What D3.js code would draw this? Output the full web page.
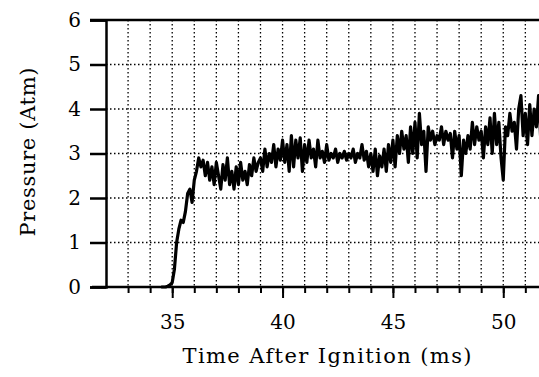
<!DOCTYPE html>
<html>
<head>
<meta charset="utf-8">
<script src="https://cdn.jsdelivr.net/npm/d3@7"></script>
<style>
  body { margin: 0; background: #fff; }
  svg { display: block; }
  text { font-family: "DejaVu Serif", "Liberation Serif", serif; fill: #000; }
</style>
</head>
<body>
<svg width="539" height="377"></svg>
<script>
// pressure trace (ms, atm)
const timeMs = [
  34.5, 34.6, 34.7, 34.8, 34.9, 35.0, 35.1, 35.2, 35.3, 35.4, 35.5, 35.6, 35.7, 35.8, 35.9,
  36.0, 36.1, 36.2, 36.3, 36.4, 36.5, 36.6, 36.7, 36.8, 36.9, 37.0, 37.1, 37.2, 37.3, 37.4,
  37.5, 37.6, 37.7, 37.8, 37.9, 38.0, 38.1, 38.2, 38.3, 38.4, 38.5, 38.6, 38.7, 38.8, 38.9,
  39.0, 39.1, 39.2, 39.3, 39.4, 39.5, 39.6, 39.7, 39.8, 39.9, 40.0, 40.1, 40.2, 40.3, 40.4,
  40.5, 40.6, 40.7, 40.8, 40.9, 41.0, 41.1, 41.2, 41.3, 41.4, 41.5, 41.6, 41.7, 41.8, 41.9,
  42.0, 42.1, 42.2, 42.3, 42.4, 42.5, 42.6, 42.7, 42.8, 42.9, 43.0, 43.1, 43.2, 43.3, 43.4,
  43.5, 43.6, 43.7, 43.8, 43.9, 44.0, 44.1, 44.2, 44.3, 44.4, 44.5, 44.6, 44.7, 44.8, 44.9,
  45.0, 45.1, 45.2, 45.3, 45.4, 45.5, 45.6, 45.7, 45.8, 45.9, 46.0, 46.1, 46.2, 46.3, 46.4,
  46.5, 46.6, 46.7, 46.8, 46.9, 47.0, 47.1, 47.2, 47.3, 47.4, 47.5, 47.6, 47.7, 47.8, 47.9,
  48.0, 48.1, 48.2, 48.3, 48.4, 48.5, 48.6, 48.7, 48.8, 48.9, 49.0, 49.1, 49.2, 49.3, 49.4,
  49.5, 49.6, 49.7, 49.8, 49.9, 50.0, 50.1, 50.2, 50.3, 50.4, 50.5, 50.6, 50.7, 50.8, 50.9,
  51.0, 51.1, 51.2, 51.3, 51.4, 51.5, 51.6, 51.7, 51.8, 51.9
]
const pressureAtm = [
  0, 0, 0, 0.02, 0.05, 0.1, 0.4, 1.0, 1.3, 1.5, 1.45, 1.7, 2.1, 2.2, 1.9,
  2.4, 2.6, 2.9, 2.7, 2.85, 2.5, 2.8, 2.4, 2.7, 2.3, 2.8, 2.5, 2.2, 2.75, 2.4,
  2.9, 2.3, 2.6, 2.2, 2.7, 2.3, 2.8, 2.4, 2.6, 2.3, 2.75, 2.5, 2.9, 2.6, 2.8,
  2.9, 2.6, 3.1, 2.7, 3.0, 2.8, 3.2, 2.7, 3.1, 2.85, 3.3, 2.8, 3.2, 2.6, 3.4,
  2.7, 3.3, 2.9, 3.35, 2.6, 3.2, 2.8, 3.3, 2.9, 3.1, 2.7, 3.3, 2.9, 3.05, 2.8,
  3.2, 2.85, 3.0, 2.9, 3.1, 2.8, 3.0, 2.9, 3.05, 2.85, 3.0, 2.9, 3.1, 2.8, 3.0,
  2.9, 3.2, 2.85, 3.05, 2.7, 3.0, 2.6, 3.1, 2.5, 2.95, 2.7, 3.1, 2.6, 3.2, 2.8,
  3.3, 2.7, 3.4, 3.0, 3.5, 3.1, 3.4, 2.8, 3.6, 3.0, 3.7, 2.9, 3.9, 3.2, 3.5,
  2.6, 3.6, 3.3, 3.5, 3.2, 3.4, 3.3, 3.6, 3.2, 3.5, 3.3, 3.45, 2.9, 3.5, 3.1,
  3.4, 2.5, 3.3, 3.0, 3.4, 3.1, 3.7, 3.2, 3.6, 3.3, 3.5, 2.9, 3.6, 3.2, 3.8,
  3.0, 3.9, 3.2, 3.7, 2.9, 2.4, 3.6, 3.4, 3.9, 3.5, 3.7, 3.1, 4.0, 4.3, 3.4,
  3.9, 3.2, 4.1, 3.4, 4.0, 3.6, 4.3, 3.3, 4.4, 3.6
]
const xMajor = [35, 40, 45, 50]
const xMinor = [33, 34, 35, 36, 37, 38, 39, 40, 41, 42, 43, 44, 45, 46, 47, 48, 49, 50, 51]
const yTicks = [0, 1, 2, 3, 4, 5, 6]
const yGrid = [1, 2, 3, 4, 5]

const svg = d3.select("svg")
const plotLeft = 106, plotRight = 539, plotTop = 20, plotBottom = 287

const x = d3.scaleLinear().domain([32, 32 + (plotRight - plotLeft) / 22.07]).range([plotLeft, plotRight])
const y = d3.scaleLinear().domain([0, 6]).range([plotBottom, plotTop])

// dotted grid
const grid = svg.append("g")
  .attr("stroke", "#000")
  .attr("stroke-width", 1.3)
  .attr("stroke-dasharray", "1.5,2.5")
grid.selectAll("line.v").data(xMinor).enter().append("line")
  .attr("class", "v")
  .attr("x1", d => x(d)).attr("x2", d => x(d))
  .attr("y1", plotTop).attr("y2", plotBottom)
grid.selectAll("line.h").data(yGrid).enter().append("line")
  .attr("class", "h")
  .attr("x1", plotLeft).attr("x2", plotRight)
  .attr("y1", d => y(d)).attr("y2", d => y(d))

// trace
const line = d3.line()
  .x((d, i) => x(timeMs[i]))
  .y(d => y(d))
svg.append("path")
  .datum(pressureAtm)
  .attr("d", line)
  .attr("fill", "none")
  .attr("stroke", "#000")
  .attr("stroke-width", 3.2)
  .attr("stroke-linejoin", "round")

// y axis
const yAxis = svg.append("g")
  .attr("transform", `translate(${plotLeft},0)`)
  .call(d3.axisLeft(y).tickValues(yTicks).tickSize(16).tickFormat(d3.format("d")))
yAxis.select(".domain").attr("stroke-width", 2.5)
yAxis.selectAll(".tick line").attr("stroke-width", 2.5)
yAxis.selectAll(".tick text")
  .attr("font-size", 20)
  .attr("font-family", "DejaVu Serif, serif")
  .attr("x", -25)

// top border
svg.append("line")
  .attr("x1", plotLeft - 16).attr("x2", plotRight)
  .attr("y1", plotTop).attr("y2", plotTop)
  .attr("stroke", "#000").attr("stroke-width", 2.5)

// x axis
const xMinorAxis = svg.append("g")
  .attr("transform", `translate(0,${plotBottom})`)
  .call(d3.axisBottom(x).tickValues(xMinor).tickSize(6).tickFormat(""))
xMinorAxis.select(".domain").remove()
xMinorAxis.selectAll(".tick line").attr("stroke-width", 2)

const xAxis = svg.append("g")
  .attr("transform", `translate(0,${plotBottom})`)
  .call(d3.axisBottom(x).tickValues(xMajor).tickSize(11).tickSizeOuter(0))
xAxis.select(".domain").remove()
xAxis.selectAll(".tick line").attr("stroke-width", 2)
xAxis.selectAll(".tick text")
  .attr("font-size", 20)
  .attr("font-family", "DejaVu Serif, serif")
  .attr("y", 28)

svg.append("line")
  .attr("x1", plotLeft - 14).attr("x2", plotRight)
  .attr("y1", plotBottom).attr("y2", plotBottom)
  .attr("stroke", "#000").attr("stroke-width", 2.5)

// titles
svg.append("text")
  .attr("x", 327).attr("y", 363)
  .attr("text-anchor", "middle")
  .attr("font-size", 21)
  .attr("textLength", 289)
  .attr("lengthAdjust", "spacing")
  .text("Time After Ignition (ms)")

svg.append("text")
  .attr("transform", "translate(35,152) rotate(-90)")
  .attr("text-anchor", "middle")
  .attr("font-size", 21)
  .attr("textLength", 169)
  .attr("lengthAdjust", "spacing")
  .text("Pressure (Atm)")
</script>
</body>
</html>
